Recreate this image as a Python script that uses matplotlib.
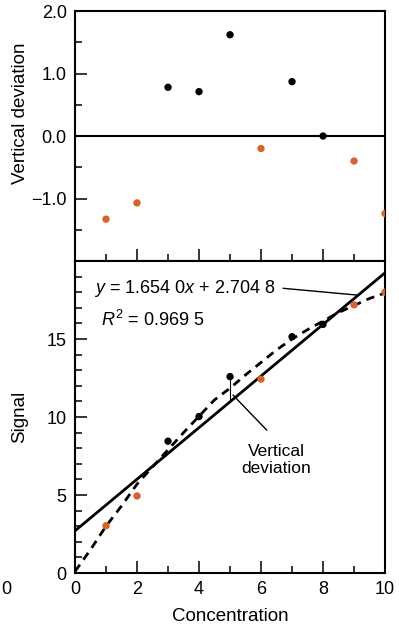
import matplotlib
matplotlib.use("Agg")
import matplotlib.pyplot as plt

plt.rcParams['font.family'] = ['Liberation Sans', 'DejaVu Sans']
plt.rcParams['mathtext.fontset'] = 'custom'
plt.rcParams['mathtext.rm'] = 'Liberation Sans'
plt.rcParams['mathtext.it'] = 'Liberation Sans:italic'

# data
conc = [1, 2, 3, 4, 5, 6, 7, 8, 9, 10]
signal = [3.03, 4.94, 8.45, 10.03, 12.59, 12.43, 15.15, 15.94, 17.19, 18.0]
deviation = [-1.33, -1.07, 0.78, 0.71, 1.62, -0.20, 0.87, 0.0, -0.40, -1.24]
is_orange = [True, True, False, False, False, True, False, False, True, True]

slope = 1.6540
intercept = 2.7048

# dashed curve
curve_x = [0, 0.5, 1, 1.5, 2, 2.5, 3, 3.5, 4, 4.5, 5, 5.5, 6, 6.5, 7, 7.5, 8, 8.5, 9, 9.5, 10]
curve_y = [0.1, 1.5, 3.0, 4.3, 5.7, 6.8, 7.9, 9.0, 10.05, 11.1, 11.85, 12.7, 13.5, 14.3,
           15.0, 15.6, 16.15, 16.7, 17.15, 17.6, 17.95]

ORANGE = "#d9622b"
colors = [ORANGE if o else "black" for o in is_orange]

fig = plt.figure(figsize=(3.99, 6.29), dpi=100)
ax_top = fig.add_axes([0.188, 0.585, 0.777, 0.3975])
ax_bot = fig.add_axes([0.188, 0.089, 0.777, 0.496])

for ax in (ax_top, ax_bot):
    for s in ax.spines.values():
        s.set_linewidth(1.5)
    ax.tick_params(which='major', direction='in', length=8.5, width=1.1, labelsize=13, pad=6)
    ax.tick_params(which='minor', direction='in', length=5, width=1.1)
    ax.tick_params(axis='x', which='both', top=False)
    ax.tick_params(axis='y', which='both', right=False)
    ax.set_xlim(0, 10)
    ax.set_xticks([0, 2, 4, 6, 8, 10])
    ax.set_xticks([1, 3, 5, 7, 9], minor=True)

# --- top panel: residuals ---
ax_top.axhline(0, color='black', lw=1.5)
ax_top.scatter(conc, deviation, c=colors, s=28, zorder=3, edgecolors='none')
ax_top.set_ylim(-2, 2)
ax_top.set_yticks([-1, 0, 1, 2])
ax_top.set_yticklabels(['\u22121.0', '0.0', '1.0', '2.0'])
ax_top.set_yticks([-1.5, -0.5, 0.5, 1.5], minor=True)
ax_top.tick_params(axis='x', labelbottom=False)
ax_top.set_ylabel("Vertical deviation", fontsize=13.5)
ax_top.yaxis.set_label_coords(-0.15, 0.59)

# --- bottom panel: calibration ---
ax_bot.axline((0, intercept), slope=slope, color='black', lw=2)
ax_bot.plot(curve_x, curve_y, color='black', lw=2, ls=(0, (3, 2.2)))
ax_bot.vlines(conc[4], conc[4] * slope + intercept, signal[4], color='black', lw=0.8)
ax_bot.scatter(conc, signal, c=colors, s=28, zorder=3, edgecolors='none')
ax_bot.set_ylim(0, 20)
ax_bot.set_yticks([0, 5, 10, 15])
ax_bot.set_yticks([i for i in range(1, 20) if i % 5 != 0], minor=True)
ax_bot.set_xlabel("Concentration", fontsize=13.5, labelpad=7)
ax_bot.set_ylabel("Signal", fontsize=13.5)
ax_bot.yaxis.set_label_coords(-0.15, 0.5)

ax_bot.text(0.6, 18.25, r"$y$ = 1.654 0$x$ + 2.704 8", fontsize=13, va='center', ha='left')
ax_bot.plot([6.72, 9.09], [18.25, 17.82], color='black', lw=1)
ax_bot.text(0.85, 16.2, r"$R^2$ = 0.969 5", fontsize=13, va='center', ha='left')

ax_bot.plot([5.1, 6.18], [11.4, 9.17], color='black', lw=1)
ax_bot.text(6.5, 7.25, "Vertical\ndeviation", fontsize=12.5, ha='center', va='center',
            linespacing=1.2)

# tick label of the neighbouring panel, clipped in the source
fig.text(1 / 399, 1 - 590 / 629, "0", fontsize=13, ha='left', va='center')

fig.savefig("out.png", dpi=100)
